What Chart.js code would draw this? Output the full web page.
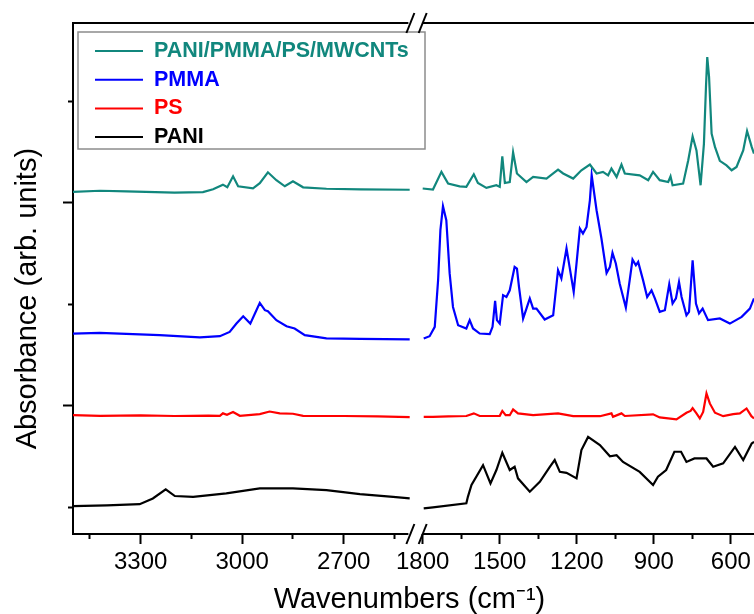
<!DOCTYPE html>
<html>
<head>
<meta charset="utf-8">
<script src="https://cdn.jsdelivr.net/npm/chart.js@4.4.1/dist/chart.umd.min.js"></script>
<style>
  html, body { margin: 0; padding: 0; background: #fff; overflow: hidden; }
</style>
</head>
<body>
<canvas id="ftir" width="754" height="614"></canvas>
<script>
// FTIR spectra, wavenumber (cm-1) and stacked absorbance (arb. units)
const compWn = [3500, 3420, 3342, 3200, 3116, 3086, 3057, 3044, 3027, 3012, 2968, 2948, 2924, 2899, 2874, 2850, 2820, 2751, 2650, 2505,
  1800, 1760, 1727, 1701, 1656, 1630, 1601, 1585, 1552, 1513, 1500, 1490, 1480, 1461, 1448, 1433, 1396, 1370, 1318, 1273,
  1253, 1214, 1182, 1149, 1123, 1098, 1078, 1065, 1045, 1026, 1013, 955, 922, 903, 877, 844, 835, 827, 786, 766,
  749, 734, 718, 705, 697, 692, 685, 675, 662, 643, 617, 597, 578, 552, 537, 519, 510];
const compAbs = [205.4, 205.9, 205.6, 205.0, 205.2, 206.6, 208.9, 207.6, 213.0, 208.1, 207.1, 209.6, 215.0, 211.1, 208.1, 210.6, 207.6, 206.9, 206.6, 206.4,
  207.0, 206.5, 215.2, 209.4, 208.1, 207.8, 214.0, 209.7, 207.3, 208.6, 207.8, 222.9, 209.7, 210.2, 224.8, 214.4, 210.2, 212.7, 211.9, 216.3,
  214.4, 211.9, 216.0, 218.8, 214.4, 215.2, 213.5, 216.8, 212.7, 218.8, 214.4, 213.5, 211.1, 215.2, 211.1, 210.2, 213.0, 208.6, 209.4, 220.9,
  232.7, 225.8, 208.6, 229.0, 257.0, 271.7, 262.0, 234.0, 227.5, 220.6, 218.4, 216.0, 217.6, 225.8, 235.3, 227.5, 224.2];

const pmmaWn = [3500, 3421, 3244, 3125, 3066, 3037, 3017, 2997, 2976, 2960, 2948, 2933, 2924, 2899, 2869, 2845, 2815, 2751, 2652, 2505,
  1796, 1773, 1753, 1740, 1731, 1721, 1708, 1695, 1682, 1662, 1630, 1617, 1604, 1578, 1539, 1528, 1518, 1511, 1500, 1487,
  1474, 1461, 1442, 1433, 1425, 1409, 1396, 1383, 1370, 1357, 1325, 1292, 1273, 1260, 1240, 1212, 1201, 1188, 1176, 1162,
  1149, 1142, 1123, 1104, 1084, 1071, 1061, 1048, 1033, 1009, 994, 983, 970, 961, 942, 926, 909, 896, 877, 857,
  840, 827, 814, 802, 792, 773, 763, 749, 736, 724, 710, 689, 643, 604, 558, 526, 510];
const pmmaAbs = [135.6, 135.9, 134.8, 133.7, 134.3, 136.4, 140.5, 144.1, 140.5, 146.3, 150.7, 147.1, 146.6, 142.2, 139.2, 138.1, 134.8, 133.2, 133.0, 132.7,
  133.2, 134.3, 138.9, 161.9, 186.5, 198.3, 191.4, 165.2, 148.7, 139.7, 138.1, 142.2, 138.1, 135.6, 135.3, 138.9, 151.7, 142.2, 140.5, 154.5,
  153.6, 156.9, 168.4, 167.6, 158.6, 143.0, 147.9, 152.9, 147.9, 147.9, 142.5, 144.6, 166.8, 162.7, 177.5, 156.1, 170.1, 187.3, 184.8, 188.1,
  201.2, 213.5, 196.3, 182.4, 165.4, 168.4, 175.3, 170.1, 160.2, 148.4, 161.9, 172.0, 169.2, 170.9, 161.9, 153.6, 156.9, 152.9, 146.3, 147.1,
  159.9, 150.4, 152.9, 161.0, 153.6, 144.6, 146.3, 171.7, 150.4, 145.5, 147.9, 142.2, 143.0, 140.5, 143.8, 147.9, 152.9];

const psWn = [3500, 3420, 3300, 3200, 3100, 3066, 3057, 3045, 3027, 3007, 2948, 2919, 2889, 2850, 2820, 2700, 2600, 2505,
  1796, 1760, 1700, 1630, 1601, 1578, 1500, 1490, 1477, 1461, 1448, 1429, 1370, 1273, 1214, 1110, 1065, 1059, 1026, 1013,
  903, 877, 812, 773, 757, 749, 734, 721, 708, 695, 682, 662, 630, 591, 565, 539, 520, 510];
const psAbs = [95.4, 95.1, 95.3, 95.0, 95.2, 95.1, 96.3, 95.6, 97.0, 95.1, 95.9, 97.2, 96.3, 96.1, 95.1, 95.0, 94.8, 94.4,
  94.6, 94.6, 94.8, 95.0, 96.3, 95.0, 95.1, 97.5, 95.4, 95.4, 98.2, 96.3, 95.4, 96.3, 94.9, 94.9, 96.3, 94.6, 96.3, 95.0,
  95.8, 94.3, 93.3, 96.6, 97.5, 98.9, 96.3, 93.8, 97.0, 106.1, 101.2, 96.6, 94.9, 95.9, 96.3, 98.7, 94.9, 93.8];

const paniWn = [3500, 3400, 3303, 3264, 3226, 3199, 3145, 3047, 2948, 2850, 2751, 2652, 2554, 2505,
  1796, 1760, 1630, 1624, 1610, 1565, 1536, 1513, 1490, 1461, 1442, 1429, 1383, 1344, 1305, 1286, 1266, 1240, 1201, 1182,
  1156, 1110, 1071, 1045, 1020, 955, 903, 884, 852, 820, 794, 773, 742, 695, 669, 630, 584, 552, 519, 510];
const paniAbs = [50.6, 51.0, 51.6, 54.4, 58.9, 55.6, 55.2, 56.9, 59.4, 59.4, 58.5, 56.5, 55.2, 54.4,
  49.5, 50.0, 52.0, 55.2, 61.0, 70.8, 61.8, 68.4, 76.9, 68.4, 70.0, 64.3, 57.7, 62.6, 70.0, 73.3, 67.5, 67.0, 64.3, 78.2,
  84.7, 80.7, 75.2, 75.7, 72.4, 67.5, 61.0, 65.1, 68.4, 77.4, 77.4, 72.4, 74.1, 74.1, 70.0, 71.7, 79.8, 73.3, 81.5, 82.3];

const xMajorTicks = [3300, 3000, 2700, 1800, 1500, 1200, 900, 600];
const xMinorTicks = [3450, 3150, 2850, 2550, 1650, 1350, 1050, 750];
const yMajorTicks = [100, 200];
const yMinorTicks = [50, 150, 250];

// broken axis: 3500-2500 on the left, 1800 down to ~510 on the right at a tighter scale
const LEFT_HI = 3500, LEFT_LO = 2500, RIGHT_HI = 1800, RIGHT_LO = 510;
const GAP = 33.4, RIGHT_K = 0.759;
function toU(w) {
  return w > 2000 ? LEFT_HI - w : (LEFT_HI - LEFT_LO) + GAP + (RIGHT_HI - w) * RIGHT_K;
}
const U_MAX = toU(RIGHT_LO);

function pts(wn, ab) {
  const out = [];
  wn.forEach(function (w, i) {
    if (i > 0 && wn[i - 1] > 2000 && w < 2000) {
      out.push({ x: (toU(wn[i - 1]) + toU(w)) / 2, y: null });
    }
    out.push({ x: toU(w), y: ab[i] });
  });
  return out;
}

const FONT = '"Liberation Sans", Arial, sans-serif';
Chart.defaults.font.family = FONT;
Chart.defaults.color = '#000';

const legendBox = {
  id: 'legendBox',
  afterDatasetsDraw: function (chart) {
    const ctx = chart.ctx, a = chart.chartArea;
    const x0 = a.left + 5, y0 = a.top + 9;
    ctx.save();
    ctx.fillStyle = '#fff';
    ctx.fillRect(x0, y0, 347, 117);
    ctx.strokeStyle = '#8c8c8c';
    ctx.lineWidth = 1.5;
    ctx.strokeRect(x0, y0, 347, 117);
    ctx.font = 'bold 21.5px ' + FONT;
    ctx.textBaseline = 'middle';
    chart.data.datasets.forEach(function (ds, i) {
      const y = y0 + 19 + i * 28.7;
      ctx.strokeStyle = ds.borderColor;
      ctx.lineWidth = 2;
      ctx.beginPath();
      ctx.moveTo(x0 + 17, y);
      ctx.lineTo(x0 + 65, y);
      ctx.stroke();
      ctx.fillStyle = ds.borderColor;
      ctx.fillText(ds.label, x0 + 76, y);
    });
    ctx.restore();
  }
};

const brokenFrame = {
  id: 'brokenFrame',
  afterDraw: function (chart) {
    const ctx = chart.ctx, a = chart.chartArea, x = chart.scales.x;
    const g1 = x.getPixelForValue(toU(LEFT_LO)), g2 = x.getPixelForValue(toU(RIGHT_HI));
    ctx.save();
    ctx.strokeStyle = '#000';
    ctx.lineWidth = 2;
    [a.top, a.bottom].forEach(function (y) {
      ctx.beginPath();
      ctx.moveTo(a.left, y);
      ctx.lineTo(g1 - 3, y);
      ctx.moveTo(g2, y);
      ctx.lineTo(a.right, y);
      ctx.stroke();
      [g1 - 1, g2].forEach(function (gx) {
        ctx.beginPath();
        ctx.moveTo(gx - 4, y + 10);
        ctx.lineTo(gx + 4, y - 10);
        ctx.stroke();
      });
    });
    ctx.restore();
  }
};

function lineSet(label, color, wn, ab) {
  return {
    label: label, data: pts(wn, ab), borderColor: color, backgroundColor: color,
    borderWidth: 2.2, pointRadius: 0, tension: 0, spanGaps: false, fill: false
  };
}

new Chart(document.getElementById('ftir'), {
  type: 'line',
  data: {
    datasets: [
      lineSet('PANI/PMMA/PS/MWCNTs', '#11877d', compWn, compAbs),
      lineSet('PMMA', '#0000ff', pmmaWn, pmmaAbs),
      lineSet('PS', '#ff0000', psWn, psAbs),
      lineSet('PANI', '#000000', paniWn, paniAbs)
    ]
  },
  options: {
    responsive: false,
    animation: false,
    layout: { padding: { top: 23, left: 0, right: 0, bottom: 0 } },
    plugins: { legend: { display: false }, tooltip: { enabled: false } },
    scales: {
      x: {
        type: 'linear', position: 'bottom', weight: 1, min: 0, max: U_MAX,
        afterBuildTicks: function (s) { s.ticks = xMajorTicks.map(function (w) { return { value: toU(w) }; }); },
        afterFit: function (s) { s.height = 80; s.paddingLeft = 0; s.paddingRight = 0; },
        ticks: {
          callback: function (v, i) { return xMajorTicks[i]; },
          font: { size: 24 }, color: '#000', padding: 4, autoSkip: false, maxRotation: 0
        },
        grid: { drawOnChartArea: false, tickLength: 10, tickWidth: 2, tickColor: '#000' },
        border: { display: false },
        title: { display: true, text: 'Wavenumbers (cm\u207B\u00B9) ', font: { size: 29, lineHeight: 1 }, color: '#000', padding: 0 }
      },
      xMinor: {
        type: 'linear', position: 'bottom', weight: 0, min: 0, max: U_MAX,
        afterBuildTicks: function (s) { s.ticks = xMinorTicks.map(function (w) { return { value: toU(w) }; }); },
        afterFit: function (s) { s.height = 0; s.paddingLeft = 0; s.paddingRight = 0; },
        ticks: { display: false },
        grid: { drawOnChartArea: false, tickLength: 5, tickWidth: 2, tickColor: '#000' },
        border: { display: false }
      },
      y: {
        position: 'left', weight: 1, min: 36.9, max: 288.5,
        afterBuildTicks: function (s) { s.ticks = yMajorTicks.map(function (v) { return { value: v }; }); },
        afterFit: function (s) { s.width = 73; },
        ticks: { display: false },
        grid: { drawOnChartArea: false, tickLength: 10, tickWidth: 2, tickColor: '#000' },
        border: { display: true, width: 2, color: '#000' },
        title: { display: true, text: 'Absorbance (arb. units)     ', font: { size: 29, lineHeight: 1 }, color: '#000', padding: { top: 13.5, bottom: 0 } }
      },
      yMinor: {
        position: 'left', weight: 0, min: 36.9, max: 288.5,
        afterBuildTicks: function (s) { s.ticks = yMinorTicks.map(function (v) { return { value: v }; }); },
        afterFit: function (s) { s.width = 0; },
        ticks: { display: false },
        grid: { drawOnChartArea: false, tickLength: 5, tickWidth: 2, tickColor: '#000' },
        border: { display: false }
      }
    }
  },
  plugins: [legendBox, brokenFrame]
});
</script>
</body>
</html>
